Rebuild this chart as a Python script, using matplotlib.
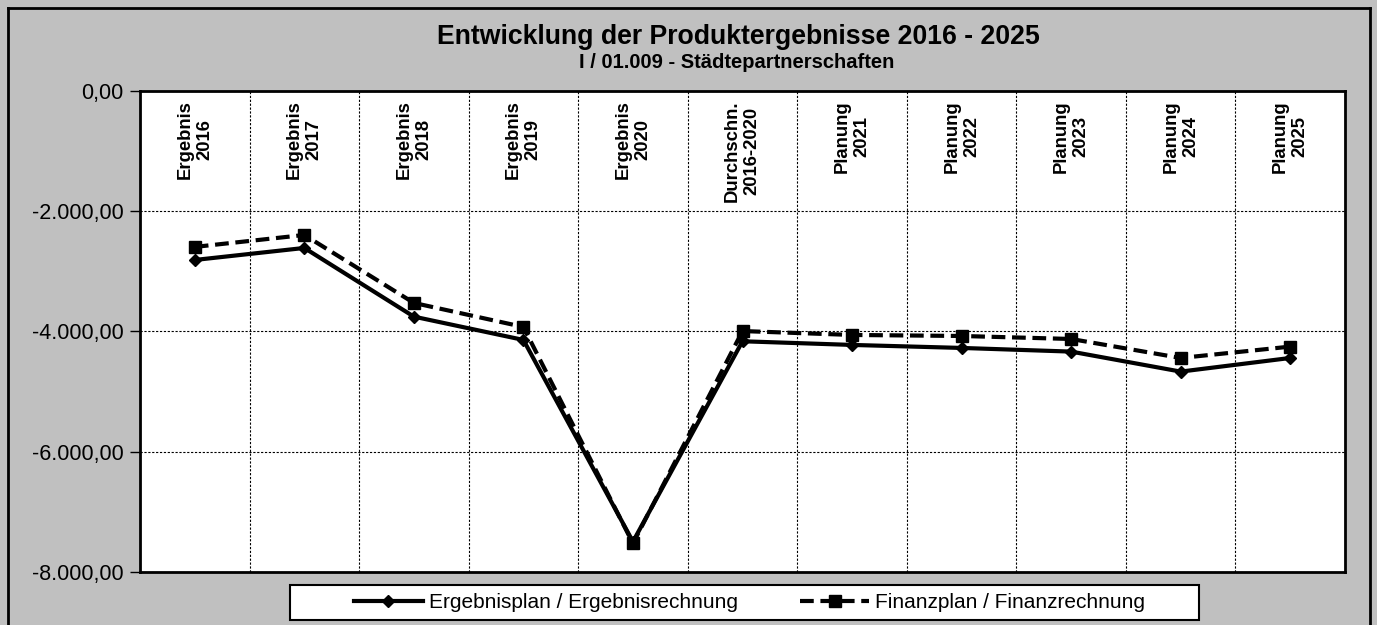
import matplotlib
matplotlib.use("Agg")
import matplotlib.pyplot as plt
from matplotlib.lines import Line2D
from matplotlib.patches import Rectangle
from matplotlib.ticker import FixedLocator, FuncFormatter

categories = ["Ergebnis\n2016", "Ergebnis\n2017", "Ergebnis\n2018", "Ergebnis\n2019",
              "Ergebnis\n2020", "Durchschn.\n2016-2020", "Planung\n2021", "Planung\n2022",
              "Planung\n2023", "Planung\n2024", "Planung\n2025"]
ergebnis = [-2812, -2612, -3755, -4143, -7500, -4165, -4226, -4276, -4337, -4670, -4443]
finanz = [-2595, -2396, -3527, -3927, -7530, -3995, -4060, -4077, -4127, -4443, -4254]
yticks = [0, -2000, -4000, -6000, -8000]

title = "Entwicklung der Produktergebnisse 2016 - 2025"
subtitle = "I / 01.009 - Städtepartnerschaften"
series_names = ["Ergebnisplan / Ergebnisrechnung", "Finanzplan / Finanzrechnung"]

plt.rcParams['font.family'] = ['Liberation Sans', 'DejaVu Sans']

W, H = 1377, 625
fig = plt.figure(figsize=(W / 100, H / 100), dpi=100, facecolor="#c0c0c0")
ax = fig.add_axes([140 / W, 1 - 571.7 / H, (1345 - 140) / W, (571.7 - 91) / H])
ax.set_facecolor("white")

x = list(range(len(categories)))
ax.plot(x, ergebnis, color="black", lw=3, marker="D", markersize=6, zorder=3,
        label=series_names[0])
ax.plot(x, finanz, color="black", lw=3, linestyle=(0, (3.3, 1.6)), marker="s",
        markersize=9, zorder=4, label=series_names[1])

ax.set_xlim(-0.5, len(categories) - 0.5)
ax.set_ylim(-8000, 0)

def fmt(v, pos):
    s = f"{abs(v):,.2f}".replace(",", "X").replace(".", ",").replace("X", ".")
    return ("-" if v < 0 else "") + s

ax.yaxis.set_major_locator(FixedLocator(yticks))
ax.yaxis.set_major_formatter(FuncFormatter(fmt))
ax.tick_params(axis="y", direction="out", length=7, width=1, labelsize=15.5, pad=5,
               colors="black")
ax.set_xticks([])
ax.xaxis.set_minor_locator(FixedLocator([i + 0.5 for i in range(len(categories) - 1)]))
ax.tick_params(axis="x", which="minor", length=0)
ax.grid(True, axis="x", which="minor", color="black", lw=0.8, linestyle=(0, (2, 1.5)))
ax.grid(True, axis="y", which="major", color="black", lw=0.8, linestyle=(0, (2, 1.5)))
ax.set_axisbelow(True)
for sp in ax.spines.values():
    sp.set_linewidth(2)
    sp.set_color("black")

for i, c in enumerate(categories):
    ax.text(i, 0.981, c, transform=ax.get_xaxis_transform(), rotation=90,
            ha="center", va="top", multialignment="center", fontsize=13.3,
            fontweight="bold", linespacing=1.2)

fig.text(738 / W, 1 - 37 / H, title, ha="center", va="center", fontsize=19.2,
         fontweight="bold")
fig.text(737 / W, 1 - 63 / H, subtitle, ha="center", va="center", fontsize=14.5,
         fontweight="bold")

# legend box
fig.add_artist(Rectangle((290 / W, 1 - 620 / H), (1199 - 290) / W, 35 / H,
                         transform=fig.transFigure, facecolor="white",
                         edgecolor="black", lw=1.5, zorder=1))
leg = fig.legend(loc="center", bbox_to_anchor=(749.5 / W, 1 - 602.5 / H), ncol=2,
                 fontsize=15, frameon=False, handlelength=3.3, columnspacing=3.0,
                 borderpad=0.3, handletextpad=0.3)
leg.set_zorder(2)

# outer chart border
lw = 2
fig.add_artist(Line2D([8 / W, 8 / W], [0, 1 - 8 / H], transform=fig.transFigure,
                      color="black", lw=lw))
fig.add_artist(Line2D([8 / W, 1370 / W], [1 - 8 / H, 1 - 8 / H],
                      transform=fig.transFigure, color="black", lw=lw))
fig.add_artist(Line2D([1370 / W, 1370 / W], [0, 1 - 8 / H], transform=fig.transFigure,
                      color="black", lw=lw))

fig.savefig("out.png", dpi=100, facecolor=fig.get_facecolor())
